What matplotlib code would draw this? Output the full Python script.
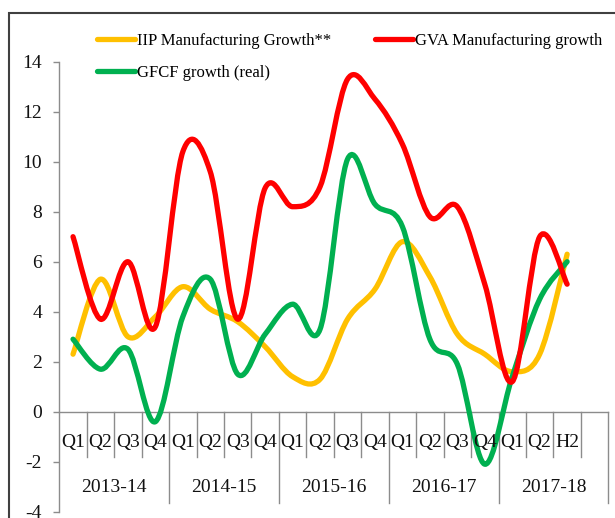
import matplotlib
matplotlib.use("Agg")
import matplotlib.pyplot as plt
from matplotlib.path import Path
from matplotlib.patches import PathPatch, Rectangle
from matplotlib.lines import Line2D

# data
quarters = ["Q1", "Q2", "Q3", "Q4", "Q1", "Q2", "Q3", "Q4", "Q1", "Q2", "Q3", "Q4",
            "Q1", "Q2", "Q3", "Q4", "Q1", "Q2", "H2"]
years = ["2013-14", "2014-15", "2015-16", "2016-17", "2017-18"]
year_sizes = [4, 4, 4, 4, 4]   # last group has an empty slot after H2

iip = [2.3, 5.3, 3.0, 3.8, 5.0, 4.1, 3.6, 2.6, 1.4, 1.3, 3.7, 4.9, 6.8, 5.4, 3.1, 2.3, 1.6, 2.3, 6.3]
gva = [7.0, 3.7, 6.0, 3.4, 10.4, 9.6, 3.7, 8.95, 8.2, 9.0, 13.3, 12.5, 10.7, 7.8, 8.2, 5.1, 1.2, 7.0, 5.1]
gfcf = [2.9, 1.7, 2.5, -0.4, 3.8, 5.3, 1.5, 3.1, 4.3, 3.3, 10.1, 8.3, 7.4, 2.9, 1.9, -2.1, 1.4, 4.5, 6.0]

ORANGE = "#FFC000"
RED = "#FF0000"
GREEN = "#00B050"
GRID = "#8C8C8C"

plt.rcParams['font.family'] = ['Liberation Serif', 'DejaVu Serif']
plt.rcParams['axes.unicode_minus'] = False


def smooth_path(xs, ys):
    # excel-like smoothed line: bezier through every point (catmull-rom tangents)
    pts = list(zip(xs, ys))
    verts = [pts[0]]
    codes = [Path.MOVETO]
    n = len(pts)
    for i in range(n - 1):
        p0 = pts[i - 1] if i > 0 else pts[i]
        p1 = pts[i]
        p2 = pts[i + 1]
        p3 = pts[i + 2] if i + 2 < n else pts[i + 1]
        c1 = (p1[0] + (p2[0] - p0[0]) / 6, p1[1] + (p2[1] - p0[1]) / 6)
        c2 = (p2[0] - (p3[0] - p1[0]) / 6, p2[1] - (p3[1] - p1[1]) / 6)
        verts += [c1, c2, p2]
        codes += [Path.CURVE4] * 3
    return Path(verts, codes)


fig = plt.figure(figsize=(6.15, 5.18), dpi=100)
ax = fig.add_axes([59.3 / 615, 6.3 / 518, 549 / 615, 450 / 518])

n_slots = sum(year_sizes)
ax.set_xlim(-0.5, n_slots - 0.5)
ax.set_ylim(-4, 14)

xs = list(range(len(quarters)))
lw = 3.8
for vals, col in [(iip, ORANGE), (gfcf, GREEN), (gva, RED)]:
    ax.add_patch(PathPatch(smooth_path(xs, vals), fill=False, edgecolor=col,
                           linewidth=lw, capstyle='round', joinstyle='round', zorder=3))

# axes styling
for s in ["top", "right", "bottom"]:
    ax.spines[s].set_visible(False)
ax.spines["left"].set_color(GRID)
ax.spines["left"].set_linewidth(1.0)
ax.set_yticks(range(-4, 15, 2))
ax.set_xticks([])
ax.tick_params(axis='y', direction='out', length=4.5, width=1.0, color=GRID,
               pad=8, labelsize=14, labelcolor="#111111")

# category axis drawn at zero
ax.plot([-0.5, n_slots - 0.5], [0, 0], color=GRID, lw=1.0, zorder=1, clip_on=False)
group_ends = []
acc = 0
for sz in year_sizes:
    acc += sz
    group_ends.append(acc)
for b in range(1, n_slots + 1):
    bottom = -3.65 if b in group_ends else -1.82
    ax.plot([b - 0.5, b - 0.5], [0, bottom], color=GRID, lw=1.0, zorder=1, clip_on=False)

for i, q in enumerate(quarters):
    ax.text(i, -1.25, q, ha='center', va='center', fontsize=14, color="#111111")
start = 0
for yr, sz in zip(years, year_sizes):
    ax.text(start + sz / 2 - 0.5, -3.05, yr, ha='center', va='center', fontsize=14,
            color="#111111")
    start += sz

# legend: two columns, placed like the original
h_iip = Line2D([], [], color=ORANGE, lw=lw, solid_capstyle='round')
h_gfcf = Line2D([], [], color=GREEN, lw=lw, solid_capstyle='round')
h_gva = Line2D([], [], color=RED, lw=lw, solid_capstyle='round')
leg_kw = dict(loc='upper left', frameon=False, fontsize=12, handlelength=2.3,
              handletextpad=0.1, borderpad=0, borderaxespad=0, labelspacing=0.95,
              bbox_transform=fig.transFigure)
leg1 = ax.legend([h_iip, h_gfcf], ["IIP Manufacturing Growth**", "GFCF growth (real)"],
                 bbox_to_anchor=(97 / 615, 1 - 33 / 518), **leg_kw)
ax.add_artist(leg1)
ax.legend([h_gva], ["GVA Manufacturing growth"],
          bbox_to_anchor=(375 / 615, 1 - 33 / 518), **leg_kw)

# outer chart border
fig.patches.append(Rectangle((8.5 / 615, -0.1), 1.2, 1 - 12.5 / 518 + 0.1, fill=False,
                             edgecolor="#404040", linewidth=1.5,
                             transform=fig.transFigure, figure=fig))

fig.savefig("out.png", dpi=100)
